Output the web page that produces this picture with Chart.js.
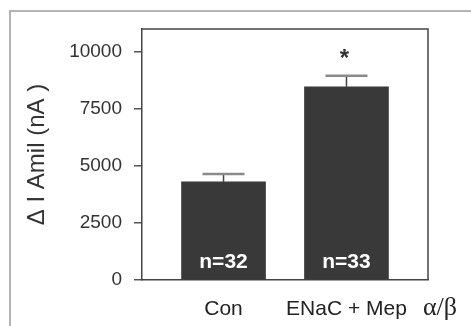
<!DOCTYPE html>
<html>
<head>
<meta charset="utf-8">
<script src="https://cdn.jsdelivr.net/npm/chart.js@4/dist/chart.umd.min.js"></script>
<style>
  body { margin: 0; background: #fff; }
  canvas { display: block; }
</style>
</head>
<body>
<canvas id="grafico" width="471" height="326"></canvas>
<script>
// datos
const categorias = ['Con', 'ENaC + Mep'];
const sufijo = ['', '\u03b1/\u03b2'];
const posiciones = [1, 2];
const medias = [4300, 8470];
const errores = [350, 480];
const n_celdas = ['n=32', 'n=33'];
const significativo = [false, true];
const ticks_y = [0, 2500, 5000, 7500, 10000];

const fuente = "'Liberation Sans', Arial, Helvetica, sans-serif";

const puntos = posiciones.map((p, i) => ({x: p, y: medias[i]}));

// marco gris exterior y caja del grafico
const marco = {
    id: 'marco',
    beforeDraw(chart) {
        const ctx = chart.ctx;
        ctx.save();
        ctx.strokeStyle = '#b3b3b3';
        ctx.lineWidth = 2;
        ctx.strokeRect(10, 11, 480, 340);
        ctx.restore();
    },
    afterDraw(chart) {
        const a = chart.chartArea;
        const ctx = chart.ctx;
        ctx.save();
        ctx.strokeStyle = '#444';
        ctx.lineWidth = 1.5;
        ctx.beginPath();
        ctx.moveTo(a.left, a.top);
        ctx.lineTo(a.right, a.top);
        ctx.lineTo(a.right, a.bottom);
        ctx.stroke();
        ctx.restore();
    }
};

// barras de error, n, asterisco y etiquetas del eje x
const extras = {
    id: 'extras',
    afterDatasetsDraw(chart) {
        const ctx = chart.ctx;
        const x = chart.scales.x;
        const y = chart.scales.y;
        ctx.save();
        posiciones.forEach((p, i) => {
            const cx = x.getPixelForValue(p);
            const y0 = y.getPixelForValue(medias[i]);
            const y1 = y.getPixelForValue(medias[i] + errores[i]);

            ctx.strokeStyle = '#444';
            ctx.lineWidth = 1.5;
            ctx.beginPath();
            ctx.moveTo(cx, y0);
            ctx.lineTo(cx, y1);
            ctx.stroke();

            ctx.strokeStyle = '#8a8a8a';
            ctx.lineWidth = 2.5;
            ctx.beginPath();
            ctx.moveTo(cx - 21, y1);
            ctx.lineTo(cx + 21, y1);
            ctx.stroke();

            ctx.fillStyle = '#fff';
            ctx.font = 'bold 21px ' + fuente;
            ctx.textAlign = 'center';
            ctx.textBaseline = 'alphabetic';
            ctx.fillText(n_celdas[i], cx, 268);

            if (significativo[i]) {
                ctx.fillStyle = '#333';
                ctx.font = 'bold 24px ' + fuente;
                ctx.fillText('*', cx - 2, 66);
            }

            ctx.fillStyle = '#222';
            ctx.font = '21px ' + fuente;
            ctx.textAlign = 'center';
            ctx.fillText(categorias[i], cx, 315);
            if (sufijo[i]) {
                const w = ctx.measureText(categorias[i]).width;
                ctx.font = '26px "Liberation Serif", "Times New Roman", serif';
                ctx.textAlign = 'left';
                ctx.fillText(sufijo[i], cx + w / 2 + 16, 315);
            }
        });
        ctx.restore();
    }
};

const ctx_g = document.getElementById('grafico');
const grafico = new Chart(ctx_g, {
    type: 'bar',
    data: {
        datasets: [{
            data: puntos,
            backgroundColor: '#393939',
            borderWidth: 0,
            barThickness: 84
        }]
    },
    options: {
        responsive: false,
        animation: false,
        layout: {padding: {top: 29, right: 43, left: 0, bottom: 0}},
        plugins: {legend: {display: false}, tooltip: {enabled: false}},
        scales: {
            x: {
                type: 'linear',
                bounds: 'data',
                offset: false,
                min: 0.337,
                max: 2.663,
                ticks: {display: false},
                grid: {display: false, drawTicks: false},
                border: {display: true, color: '#444', width: 1.5},
                afterFit(scale) { scale.height = 46; }
            },
            y: {
                min: 0,
                max: 11000,
                afterBuildTicks(scale) { scale.ticks = ticks_y.map(v => ({value: v})); },
                ticks: {
                    color: '#333',
                    padding: 12,
                    font: {family: fuente, size: 19},
                    callback: (v) => String(v)
                },
                grid: {drawOnChartArea: false, drawTicks: true, tickLength: 8, color: '#555', lineWidth: 1.5},
                border: {display: true, color: '#444', width: 1.5},
                title: {
                    display: true,
                    text: '\u0394 I Amil (nA )',
                    color: '#333',
                    font: {family: fuente, size: 24},
                    padding: {top: 23, bottom: 0}
                },
                afterFit(scale) { scale.width = 142; }
            }
        }
    },
    plugins: [marco, extras]
});
</script>
</body>
</html>
